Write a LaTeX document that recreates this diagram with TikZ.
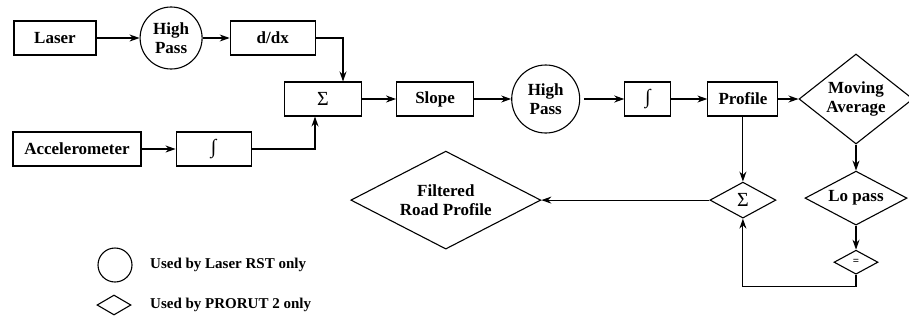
\documentclass[tikz,border=0pt]{standalone}
\usepackage{fontspec}
\setmainfont{Liberation Serif}
\usetikzlibrary{positioning,arrows.meta,shapes.geometric}
\newcommand{\sumglyph}{{\mdseries\fontsize{20}{20}\selectfont Σ}}
\newcommand{\intglyph}{{\mdseries\fontsize{20}{20}\selectfont ∫}}
\tikzset{
    blockbox/.style={draw,line width=1.1pt,minimum height=34pt,inner sep=0pt,
        align=center,font=\fontsize{17}{19}\selectfont\bfseries},
    filterball/.style={circle,draw,line width=1.1pt,inner sep=0pt,
        align=center,font=\fontsize{17}{19}\selectfont\bfseries},
    decision/.style={diamond,draw,line width=1.1pt,inner sep=0pt,aspect=2,
        align=center,font=\fontsize{17}{19}\selectfont\bfseries},
    legendtext/.style={anchor=west,inner sep=0pt,font=\fontsize{15}{17}\selectfont\bfseries},
    arrow/.style={-{Stealth[length=10pt,width=7pt]},line width=1.1pt}
}
\begin{document}
\begin{tikzpicture}[x=1pt,y=1pt,node distance=34pt]
    \useasboundingbox (0,0) rectangle (909,-322);
    % laser branch
    \node[blockbox,minimum width=82pt] (laser) at (55,-38) {Laser};
    \node[filterball,minimum size=62pt,right=43pt of laser] (highPassA) {High\\Pass};
    \node[blockbox,minimum width=85pt,right=27pt of highPassA] (ddx) {d/dx};
    % accelerometer branch
    \node[blockbox,minimum width=128pt] (accel) at (77,-149) {Accelerometer};
    \node[blockbox,minimum width=75pt,right=34pt of accel] (intB) {\intglyph};
    % main row
    \node[blockbox,minimum width=77pt] (sumA) at (323,-99) {\sumglyph};
    \node[blockbox,minimum width=77pt,right=of sumA] (slope) {Slope};
    \node[filterball,minimum size=68pt,right=37pt of slope] (highPassB) {High\\Pass};
    \node[blockbox,minimum width=46pt,right=44pt of highPassB] (intA) {\intglyph};
    \node[blockbox,minimum width=70pt,right=36pt of intA] (profile) {Profile};
    \node[decision,aspect=1.3,minimum width=114pt,minimum height=90pt,
        right=20pt of profile] (movAvg) {Moving\\Average};
    % lower row
    \node[decision,minimum width=66pt,minimum height=36pt,below=65pt of profile] (sumB) {\sumglyph};
    \node[decision,minimum width=102pt,minimum height=54pt,below=26pt of movAvg] (loPass) {Lo pass};
    \node[decision,minimum width=44pt,minimum height=24pt,below=24pt of loPass,
        font=\fontsize{11}{11}\selectfont\bfseries] (equal) {=};
    \node[decision,minimum width=190pt,minimum height=98pt,left=168pt of sumB] (filtered) {Filtered\\Road Profile};
    % legend
    \node[circle,draw,line width=1.1pt,minimum size=34pt] (legCircle) at (115,-265) {};
    \node[diamond,draw,line width=1.1pt,inner sep=0pt,aspect=2,minimum width=34pt,
        minimum height=20pt] (legDiamond) at (114,-305) {};
    \node[legendtext] (legRST) at (150,-265) {Used by Laser RST only};
    \node[legendtext] (legPRORUT) at (150,-305) {Used by PRORUT 2 only};
    % connectors
    \draw[arrow] (laser) -- (highPassA);
    \draw[arrow] (highPassA) -- (ddx);
    \draw[arrow] (ddx.east) -| ([xshift=20pt]sumA.north);
    \draw[arrow] (accel) -- (intB);
    \draw[arrow] (intB.east) -| ([xshift=-8pt]sumA.south);
    \draw[arrow] (sumA) -- (slope);
    \draw[arrow] (slope) -- (highPassB);
    \draw[arrow] ([xshift=4pt]highPassB.east) -- (intA);
    \draw[arrow] (intA) -- (profile);
    \draw[arrow] (profile) -- (movAvg);
    \draw[arrow] (profile) -- (sumB);
    \draw[arrow] (movAvg) -- (loPass);
    \draw[arrow] (loPass) -- (equal);
    \draw[arrow] (sumB) -- (filtered);
    \draw[arrow] (equal.south) -- ++(0,-12) -| (sumB.south);
\end{tikzpicture}
\end{document}
